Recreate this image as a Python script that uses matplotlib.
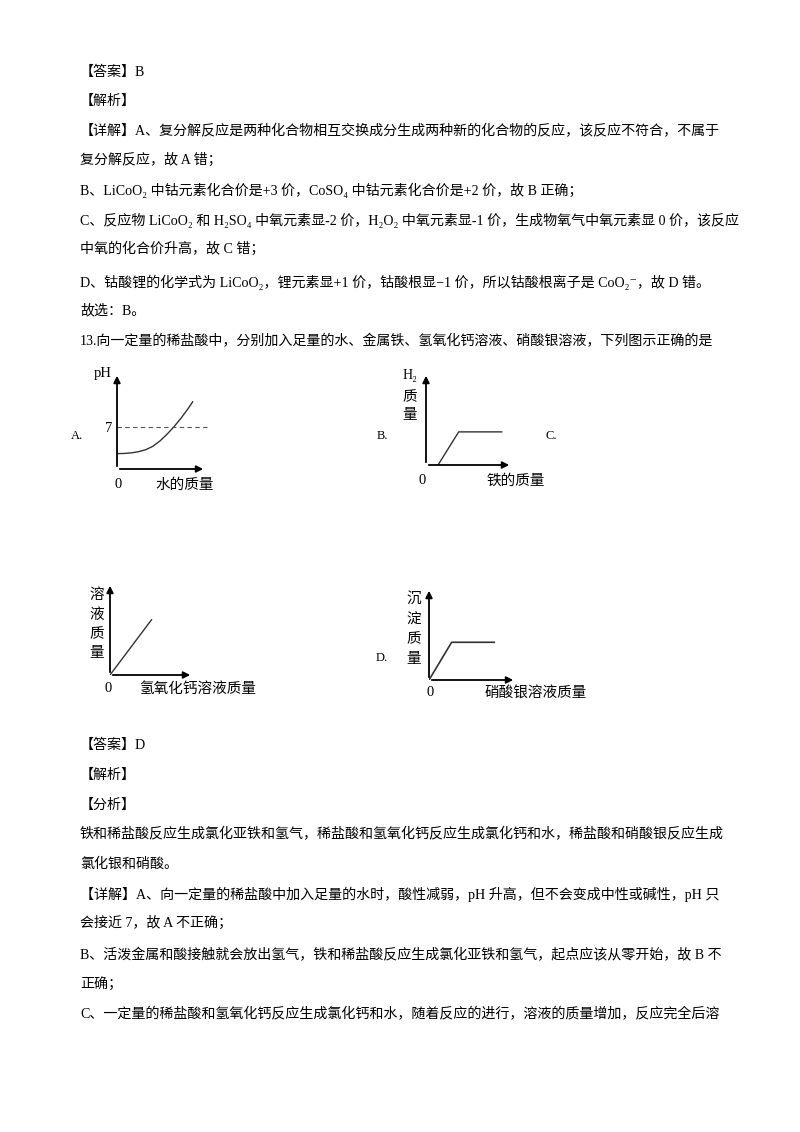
import matplotlib
matplotlib.use('Agg')
import matplotlib.pyplot as plt
import numpy as np

plt.rcParams['font.family'] = ['Liberation Serif', 'Noto Sans CJK SC', 'DejaVu Sans']
W, H = 800, 1132

# page text: (y pixel, text)
lines_top = [
    (72, '【答案】B'),
    (101, '【解析】'),
    (131, '【详解】A、复分解反应是两种化合物相互交换成分生成两种新的化合物的反应，该反应不符合，不属于'),
    (160, '复分解反应，故 A 错；'),
    (190, 'B、LiCoO₂ 中钴元素化合价是+3 价，CoSO₄ 中钴元素化合价是+2 价，故 B 正确；'),
    (220, 'C、反应物 LiCoO₂ 和 H₂SO₄ 中氧元素显-2 价，H₂O₂ 中氧元素显-1 价，生成物氧气中氧元素显 0 价，该反应'),
    (249, '中氧的化合价升高，故 C 错；'),
    (282, 'D、钴酸锂的化学式为 LiCoO₂，锂元素显+1 价，钴酸根显−1 价，所以钴酸根离子是 CoO₂⁻，故 D 错。'),
    (311, '故选：B。'),
    (341, '13.向一定量的稀盐酸中，分别加入足量的水、金属铁、氢氧化钙溶液、硝酸银溶液，下列图示正确的是'),
]
lines_bottom = [
    (745, '【答案】D'),
    (775, '【解析】'),
    (805, '【分析】'),
    (834, '铁和稀盐酸反应生成氯化亚铁和氢气，稀盐酸和氢氧化钙反应生成氯化钙和水，稀盐酸和硝酸银反应生成'),
    (864, '氯化银和硝酸。'),
    (894, '【详解】A、向一定量的稀盐酸中加入足量的水时，酸性减弱，pH 升高，但不会变成中性或碱性，pH 只'),
    (923, '会接近 7，故 A 不正确；'),
    (955, 'B、活泼金属和酸接触就会放出氢气，铁和稀盐酸反应生成氯化亚铁和氢气，起点应该从零开始，故 B 不'),
    (984, '正确；'),
    (1014, 'C、一定量的稀盐酸和氢氧化钙反应生成氯化钙和水，随着反应的进行，溶液的质量增加，反应完全后溶'),
]

# chart curves, in axis fractions (0..1, arrow tips at 1)
ph_x = [0.0, 0.08, 0.16, 0.24, 0.32, 0.40, 0.48, 0.56, 0.64, 0.72, 0.80, 0.85]
ph_y = [0.16, 0.162, 0.168, 0.18, 0.20, 0.235, 0.29, 0.36, 0.44, 0.53, 0.63, 0.70]
ph7 = 0.44
h2_x = [0.14, 0.38, 0.88]
h2_y = [0.0, 0.36, 0.36]
sol_x = [0.0, 0.5]
sol_y = [0.0, 0.6]
ppt_x = [0.0, 0.26, 0.75]
ppt_y = [0.0, 0.41, 0.41]

fig = plt.figure(figsize=(W / 100, H / 100), dpi=100)
page = fig.add_axes([0, 0, 1, 1])
page.set_xlim(0, W)
page.set_ylim(H, 0)
page.axis('off')

for y, s in lines_top + lines_bottom:
    page.text(80, y, s, fontsize=10.1, va='center', ha='left')


def chart(x0, y0, x1, y1):
    # x0,y0 = origin pixel; x1 = x arrow tip; y1 = y arrow tip
    ax = fig.add_axes([x0 / W, (H - y0) / H, (x1 - x0) / W, (y0 - y1) / H])
    ax.set_xlim(0, 1)
    ax.set_ylim(0, 1)
    ax.axis('off')
    kw = dict(arrowstyle='-|>', color='black', lw=1.3, mutation_scale=10)
    ax.annotate('', xy=(1, 0), xytext=(0, 0), arrowprops=kw, annotation_clip=False)
    ax.annotate('', xy=(0, 1), xytext=(0, 0), arrowprops=kw, annotation_clip=False)
    return ax


lab = dict(family=['Noto Sans CJK SC', 'DejaVu Sans'], fontsize=10.5, ha='center', va='center')

# A
ax = chart(117, 469, 206, 373)
ax.plot(ph_x, ph_y, color='#333333', lw=1)
ax.plot([0, 1.02], [ph7, ph7], color='#555555', lw=0.8, ls=(0, (4, 3)), clip_on=False)
page.text(103, 374, 'pH', fontsize=10.5, ha='center', va='center')
page.text(109, 428, '7', fontsize=10.5, ha='center', va='center')
page.text(118, 484, '0', fontsize=10.5, ha='center', va='center')
page.text(185, 485, '水的质量', **lab)
page.text(77, 436, 'A.', fontsize=9, ha='center', va='center')

# B
ax = chart(426, 465, 512, 373)
ax.plot(h2_x, h2_y, color='#333333', lw=1)
page.text(410, 376, 'H₂', fontsize=10, ha='center', va='center')
page.text(410, 397, '质', **lab)
page.text(410, 415, '量', **lab)
page.text(422, 480, '0', fontsize=10.5, ha='center', va='center')
page.text(516, 481, '铁的质量', **lab)
page.text(382, 436, 'B.', fontsize=9, ha='center', va='center')
page.text(551, 436, 'C.', fontsize=9, ha='center', va='center')

# C
ax = chart(110, 675, 193, 583)
ax.plot(sol_x, sol_y, color='#333333', lw=1)
for i, ch in enumerate('溶液质量'):
    page.text(97, 595 + i * 19.5, ch, **lab)
page.text(108, 689, '0', fontsize=10.5, ha='center', va='center')
page.text(198, 689, '氢氧化钙溶液质量', **lab)

# D
ax = chart(429, 680, 516, 588)
ax.plot(ppt_x, ppt_y, color='#333333', lw=1.2)
for i, ch in enumerate('沉淀质量'):
    page.text(414, 600 + i * 19.5, ch, **lab)
page.text(430, 692, '0', fontsize=10.5, ha='center', va='center')
page.text(536, 693, '硝酸银溶液质量', **lab)
page.text(382, 658, 'D.', fontsize=9, ha='center', va='center')

fig.savefig('out.png', dpi=100)
